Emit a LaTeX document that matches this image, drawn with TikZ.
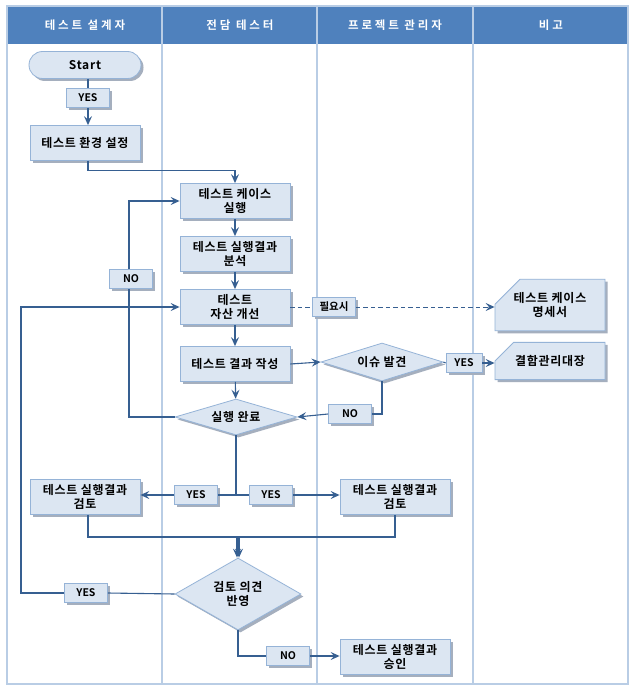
\documentclass[tikz,border=0pt]{standalone}
\usepackage{fontspec}
\setmainfont{Noto Sans CJK KR}[BoldFont=* Bold]
\newfontfamily\hdrfont{Noto Sans CJK KR}[BoldFont=* Bold, LetterSpace=25]
\newfontfamily\boxfont{Noto Sans CJK KR}[BoldFont=* Bold, LetterSpace=6]
\usetikzlibrary{shapes.geometric,shapes.misc,arrows.meta,shadows}
\definecolor{hdr}{RGB}{79,129,189}
\definecolor{lanecol}{RGB}{185,205,229}
\definecolor{boxfill}{RGB}{220,230,242}
\definecolor{boxline}{RGB}{149,179,215}
\definecolor{shd}{RGB}{165,175,190}
\definecolor{lnk}{RGB}{54,95,145}
\begin{document}
\begin{tikzpicture}[x=1pt,y=-1pt,
  every node/.style={font=\boxfont\bfseries\fontsize{12}{14.5}\selectfont, align=center, inner sep=1pt, text=black},
  sh/.style={drop shadow={shadow xshift=2.5pt,shadow yshift=-2.5pt,fill=shd,opacity=1}},
  procbox/.style={draw=boxline, fill=boxfill, line width=0.8pt, minimum width=110pt, minimum height=35pt, sh},
  termbox/.style={draw=boxline, fill=boxfill, line width=0.8pt, minimum width=112pt, minimum height=27pt, rounded corners=13.5pt, sh},
  lblbox/.style={draw=boxline, fill=boxfill, line width=0.8pt, minimum width=43pt, minimum height=19pt, sh, font=\bfseries\fontsize{10.5}{12}\selectfont},
  decbox/.style={diamond, draw=boxline, fill=boxfill, line width=0.8pt, inner sep=0pt, aspect=3, sh},
  docbox/.style={chamfered rectangle, chamfered rectangle corners=north west, chamfered rectangle xsep=13pt, chamfered rectangle ysep=12pt, draw=boxline, fill=boxfill, line width=0.8pt, minimum width=110pt, inner sep=1pt, sh},
  hdrtext/.style={font=\hdrfont\bfseries\fontsize{11.5}{13}\selectfont, text=white},
  link/.style={draw=lnk, line width=1.1pt},
  arrowlink/.style={link, -{Stealth[length=9pt,width=8pt,inset=3.5pt]}},
  dashlink/.style={arrowlink, dash pattern=on 4.5pt off 3pt, line width=0.9pt}
]
\useasboundingbox (0,0) rectangle (635,690);
\fill[white] (0,0) rectangle (635,690);
% swimlanes
\fill[hdr] (7,6) rectangle (628,44);
\draw[lanecol, line width=1.1pt] (7,6) rectangle (628,684);
\foreach \xx in {162,317,473} \draw[lanecol, line width=1.1pt] (\xx,6) -- (\xx,684);
\node[hdrtext] (h1) at (85,25) {테스트 설계자};
\node[hdrtext] (h2) at (240,25) {전담 테스터};
\node[hdrtext] (h3) at (395,25) {프로젝트 관리자};
\node[hdrtext] (h4) at (551,25) {비고};

% nodes
\node[termbox] (start) at (85,65) {Start};
\node[lblbox] (yes1) at (88,98) {YES};
\node[procbox] (env) at (85,143) {테스트 환경 설정};
\node[procbox] (tc) at (235,201) {테스트 케이스\\실행};
\node[procbox] (an) at (235,254) {테스트 실행결과\\분석};
\node[procbox] (imp) at (235,307) {테스트\\자산 개선};
\node[procbox] (wr) at (235,364) {테스트 결과 작성};
\node[decbox, minimum width=122pt, minimum height=36pt] (done) at (236,417) {실행 완료};
\node[lblbox] (no1) at (131,279) {NO};
\node[lblbox] (need) at (334,307) {필요시};
\node[docbox, minimum height=48pt] (spec) at (550,305) {테스트 케이스\\명세서};
\node[decbox, minimum width=122pt, minimum height=38pt] (issue) at (382,362) {이슈 발견};
\node[lblbox, minimum width=36pt] (yes2) at (464,363) {YES};
\node[docbox, minimum height=37pt] (rec) at (550,361) {결함관리대장};
\node[lblbox] (no2) at (350,414) {NO};
\coordinate (split) at (236,495);
\node[lblbox] (yes3) at (196,495) {YES};
\node[lblbox] (yes4) at (271,495) {YES};
\node[procbox] (revL) at (85,497) {테스트 실행결과\\검토};
\node[procbox] (revR) at (395,497) {테스트 실행결과\\검토};
\coordinate (mergeL) at (237,537);
\coordinate (mergeR) at (239,537);
\node[decbox, minimum width=123pt, minimum height=72pt] (rv) at (238,594) {검토 의견\\반영};
\node[lblbox] (yes5) at (86,593) {YES};
\coordinate (loop) at (21,593);
\node[lblbox] (no3) at (288,656) {NO};
\node[procbox] (appr) at (395,657) {테스트 실행결과\\승인};

% connectors
\draw[link] (yes1 |- start.south) -- (yes1.north);
\draw[arrowlink] (yes1.south) -- (yes1 |- env.north);
\draw[arrowlink] (yes1 |- env.south) -- ++(0,10) -| (tc.north);
\draw[arrowlink] (tc) -- (an);
\draw[arrowlink] (an) -- (imp);
\draw[arrowlink] (imp) -- (wr);
\draw[arrowlink] (wr) -- (done);
\draw[arrowlink] (wr.east) -- (issue.west);
\draw[link] (issue.east) -- (yes2.west);
\draw[arrowlink] (yes2.east) -- (rec.west |- yes2);
\draw[link] (issue.south) |- (no2.east);
\draw[arrowlink] (no2.west) -- (done.east);
\draw[link] (done.west) -| ([xshift=-2pt]no1.south);
\draw[arrowlink] ([xshift=-2pt]no1.north) |- (tc.west);
\draw[dashlink, -] (imp.east) -- (need.west);
\draw[dashlink] (need.east) -- (spec.west |- need);
\draw[link] (done.south) -- (split);
\draw[link] (split) -- (yes3.east);
\draw[arrowlink] (yes3.west) -- (revL.east |- yes3);
\draw[link] (split) -- (yes4.west);
\draw[arrowlink] (yes4.east) -- (revR.west |- yes4);
\draw[arrowlink] ([xshift=3pt]revL.south) |- (mergeL) -- (mergeL |- rv.north);
\draw[arrowlink] (revR.south) |- (mergeR) -- (mergeR |- rv.north);
\draw[link] (rv.west) -- (yes5.east);
\draw[arrowlink] (yes5.west) -- (loop) |- (imp.west);
\draw[link] (rv.south) |- (no3.west);
\draw[arrowlink] (no3.east) -- (appr.west |- no3);
\end{tikzpicture}
\end{document}
